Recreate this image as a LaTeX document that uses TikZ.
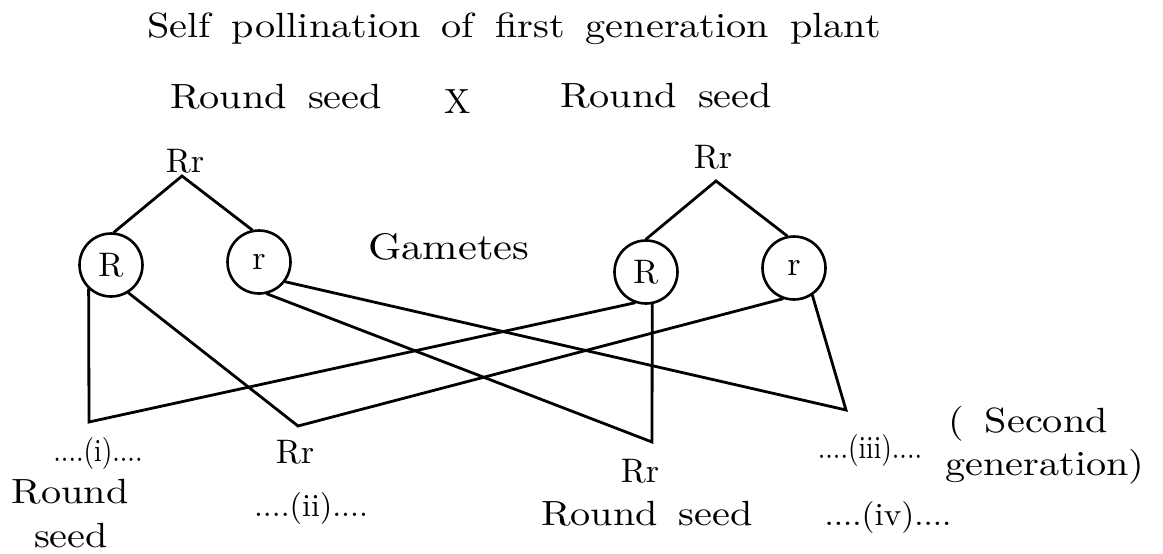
\documentclass[tikz,border=0pt]{standalone}
\usepackage{fontspec}
\usepackage{graphicx}
\newfontfamily\lmten{lmroman10-regular.otf}
\newcommand{\sx}[1]{\scalebox{1.15}[1]{\spaceskip=0.52em\relax #1}}
\tikzset{
  big/.style={font=\lmten\fontsize{35}{40}\selectfont, inner sep=0pt},
  tm/.style={font=\lmten\fontsize{32}{36}\selectfont, inner sep=0pt},
  gen/.style={font=\lmten\fontsize{34}{38}\selectfont, inner sep=0pt, anchor=base},
  gam/.style={circle, draw, line width=2.6pt, minimum size=63pt, inner sep=0pt,
              font=\lmten\fontsize{34}{38}\selectfont},
  ln/.style={line width=2.8pt, line cap=round, line join=miter},
}
\begin{document}
\begin{tikzpicture}[x=1pt,y=-1pt]
\useasboundingbox (0,0) rectangle (1163,554);
% headings
\node[big, anchor=base west] (title) at (147,37) {\sx{Self pollination of first generation plant}};
\node[big, anchor=base west] (rsL) at (170,108) {\sx{Round seed}};
\node[big, anchor=base] (cross) at (458,113) {X};
\node[big, anchor=base west] (rsR) at (560,107) {\sx{Round seed}};
\node[big, anchor=base west, font=\lmten\fontsize{37}{40}\selectfont] (gam) at (368,259) {\sx{Gametes}};
% parents
\node[gen] (pL) at (185,172) {Rr};
\node[gen] (pR) at (713,168) {Rr};
\coordinate (aL) at (182,176);
\coordinate (aR) at (716,181);
% gametes
\node[gam] (lR) at (111,265) {R};
\node[gam] (lr) at (259,262) {r};
\node[gam] (rR) at (646,272) {R};
\node[gam] (rr) at (794,268) {r};
\draw[ln] (lR.85) -- (aL) -- (lr.102);
\draw[ln] (rR.90) -- (aR) -- (rr.102);
% offspring junctions
\coordinate (e1) at (89,422);
\coordinate (e2) at (298,426);
\coordinate (e3) at (652,442);
\coordinate (e4) at (846,410);
\draw[ln] (lR.227) -- (e1) -- (rR.250);
\draw[ln] (lR.302) -- (e2) -- (rr.250);
\draw[ln] (lr.284) -- (e3) -- (rR.281);
\draw[ln] (lr.323) -- (e4) -- (rr.304);
% offspring labels
\node[tm] (o1) at (98,453) {\scalebox{0.85}[1]{....(i)....}};
\node[big, anchor=base] (o1a) at (70,503) {\sx{Round}};
\node[big, anchor=base] (o1b) at (71,547) {\sx{seed}};
\node[gen] (o2g) at (295,463) {Rr};
\node[tm] (o2) at (311,508) {....(ii)....};
\node[gen] (o3g) at (640,482) {Rr};
\node[big, anchor=base] (o3a) at (647,525) {\sx{Round seed}};
\node[tm] (o4) at (870,450) {\scalebox{0.85}[1]{....(iii)....}};
\node[tm] (o5) at (888,517) {\scalebox{1.04}[1]{....(iv)....}};
\node[big, anchor=base west] (sg1) at (948,432) {\sx{( Second}};
\node[big, anchor=base west] (sg2) at (945,475) {\sx{generation)}};
\end{tikzpicture}
\end{document}
